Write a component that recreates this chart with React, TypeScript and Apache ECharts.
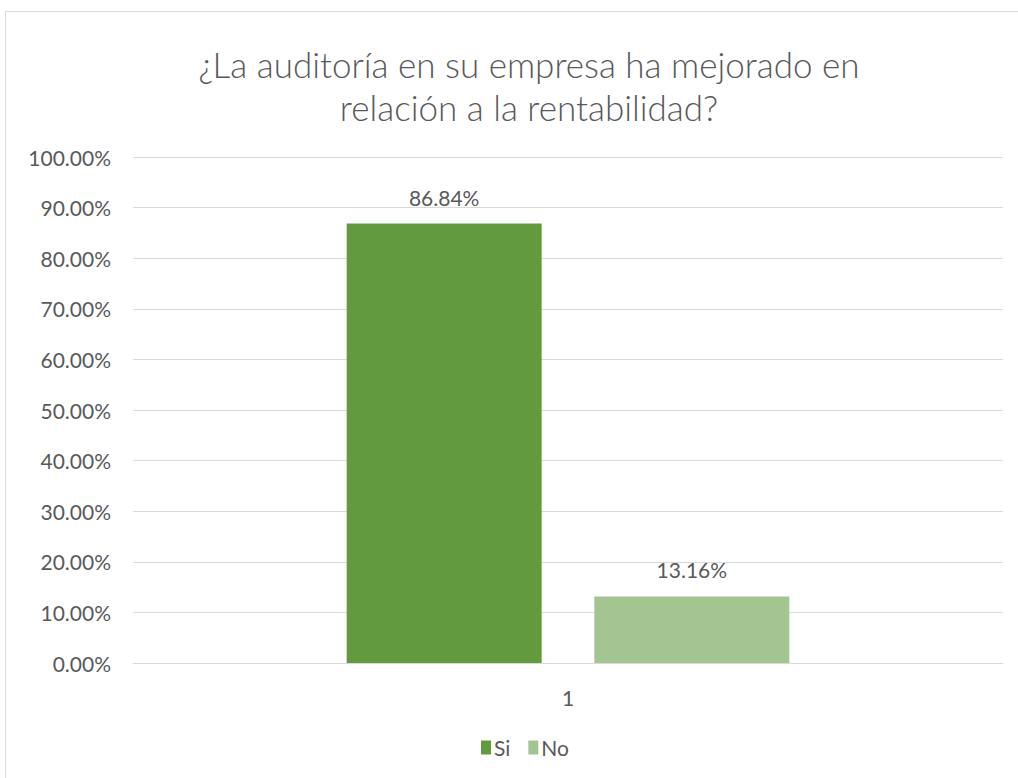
import React, { useEffect, useRef } from "react";
import * as echarts from "echarts";

const titleLines = ["¿La auditoría en su empresa ha mejorado en", "relación a la rentabilidad?"];
const categories = ["1"];
const seriesNames = ["Si", "No"];
const siValues = [86.84];
const noValues = [13.16];
const seriesColors = ["#629B3F", "#A3C592"];

const FONT = "Lato, 'Open Sans', sans-serif";
const TEXT = "#595959";

export default function App() {
  const ref = useRef<HTMLDivElement>(null);
  useEffect(() => {
    if (!ref.current) return;
    const chart = echarts.init(ref.current, null, { renderer: "svg" });
    const label = {
      show: true,
      position: "top",
      distance: 16,
      color: TEXT,
      fontFamily: FONT,
      fontSize: 21,
      formatter: (p: any) => p.value.toFixed(2) + "%",
    };
    chart.setOption({
      animation: false,
      backgroundColor: "#ffffff",
      textStyle: { fontFamily: FONT },
      title: {
        text: titleLines.join("\n"),
        left: 524,
        textAlign: "center",
        top: 37,
        textStyle: {
          color: TEXT,
          fontFamily: FONT,
          fontSize: 35,
          fontWeight: 300,
          lineHeight: 43,
        },
      },
      graphic: [
        {
          type: "rect",
          shape: { x: 5.5, y: 11.5, width: 1030, height: 800 },
          style: { fill: "none", stroke: "#d9d9d9", lineWidth: 1 },
          silent: true,
        },
      ],
      legend: {
        data: seriesNames,
        left: 481,
        top: 737,
        padding: 0,
        itemWidth: 10,
        itemHeight: 14,
        itemGap: 18,
        icon: "rect",
        textStyle: { color: TEXT, fontFamily: FONT, fontSize: 21, padding: [0, 0, 0, -2] },
      },
      grid: { left: 133, right: 15, top: 157, bottom: 115, containLabel: false },
      xAxis: {
        type: "category",
        data: categories,
        axisLine: { show: true, lineStyle: { color: "#d9d9d9", width: 1 } },
        axisTick: { show: false },
        axisLabel: { color: TEXT, fontFamily: FONT, fontSize: 21, margin: 24 },
      },
      yAxis: {
        type: "value",
        min: 0,
        max: 100,
        interval: 10,
        axisLine: { show: false },
        axisTick: { show: false },
        splitLine: { lineStyle: { color: "#d9d9d9", width: 1 } },
        axisLabel: {
          color: TEXT,
          fontFamily: FONT,
          fontSize: 21,
          margin: 22,
          formatter: (v: number) => v.toFixed(2) + "%",
        },
      },
      series: [
        {
          name: seriesNames[0],
          type: "bar",
          data: siValues,
          barWidth: 195,
          barGap: "27%",
          itemStyle: { color: seriesColors[0] },
          label,
        },
        {
          name: seriesNames[1],
          type: "bar",
          data: noValues,
          barWidth: 195,
          barGap: "27%",
          itemStyle: { color: seriesColors[1] },
          label,
        },
      ],
    });
    return () => chart.dispose();
  }, []);
  return (
    <div
      ref={ref}
      style={{ position: "fixed", left: 0, top: 0, width: 1018, height: 778 }}
    />
  );
}
